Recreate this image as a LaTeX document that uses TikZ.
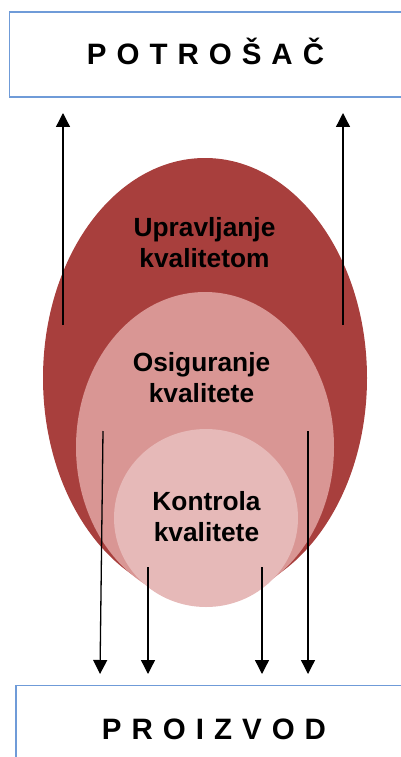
\documentclass[tikz,border=0pt]{standalone}
\usepackage{fontspec}
\setmainfont{Liberation Sans}
\usetikzlibrary{arrows.meta}
\definecolor{outerred}{HTML}{A83F3D}
\definecolor{midpink}{HTML}{D99694}
\definecolor{innerpink}{HTML}{E6B9B8}
\definecolor{boxblue}{HTML}{6F9BD8}
\newcommand{\lgap}{\hspace{10pt}}
\tikzset{
  endbox/.style={draw=boxblue, line width=1.5pt},
  ringlabel/.style={font=\bfseries\fontsize{26.3}{31}\selectfont, align=center, inner sep=0pt},
  boxlabel/.style={font=\bfseries\fontsize{29.5}{34}\selectfont, anchor=base, inner sep=0pt},
  flow/.style={line width=1.3pt, -{Triangle[width=14pt,length=14pt]}}
}
\begin{document}
\begin{tikzpicture}[x=1pt,y=-1pt]
\useasboundingbox (0,0) rectangle (401,757);
% boxes
\draw[endbox] (410,12) -- (9.5,12) -- (9.5,97) -- (410,97);
\draw[endbox] (410,685.5) -- (16,685.5) -- (16,770);
\node[boxlabel] (potrosac) at (205.5,65) {P\lgap O\lgap T\lgap R\lgap O\lgap Š\lgap A\lgap Č};
\node[boxlabel] (proizvod) at (214,739) {P\lgap R\lgap O\lgap I\lgap Z\lgap V\lgap O\lgap D};
% ellipses
\fill[outerred] (205,378) ellipse [x radius=162, y radius=220];
\fill[midpink] (205,447) ellipse [x radius=129, y radius=155];
\fill[innerpink] (206,518) ellipse [x radius=92, y radius=89];
\node[ringlabel] (upr) at (204.5,243) {Upravljanje\\kvalitetom};
\node[ringlabel] (osi) at (201.5,378) {Osiguranje\\kvalitete};
\node[ringlabel] (kon) at (206.5,516.5) {Kontrola\\kvalitete};
% arrow ends
\coordinate (ul0) at (63,325);  \coordinate (ul1) at (63,113);
\coordinate (ur0) at (343,325); \coordinate (ur1) at (343,113);
\coordinate (d10) at (103,431); \coordinate (d11) at (100,674);
\coordinate (d20) at (148,567); \coordinate (d21) at (148,674);
\coordinate (d30) at (262,567); \coordinate (d31) at (262,674);
\coordinate (d40) at (308,431); \coordinate (d41) at (308,674);
\draw[flow] (ul0) -- (ul1);
\draw[flow] (ur0) -- (ur1);
\draw[flow] (d10) -- (d11);
\draw[flow] (d20) -- (d21);
\draw[flow] (d30) -- (d31);
\draw[flow] (d40) -- (d41);
\end{tikzpicture}
\end{document}
